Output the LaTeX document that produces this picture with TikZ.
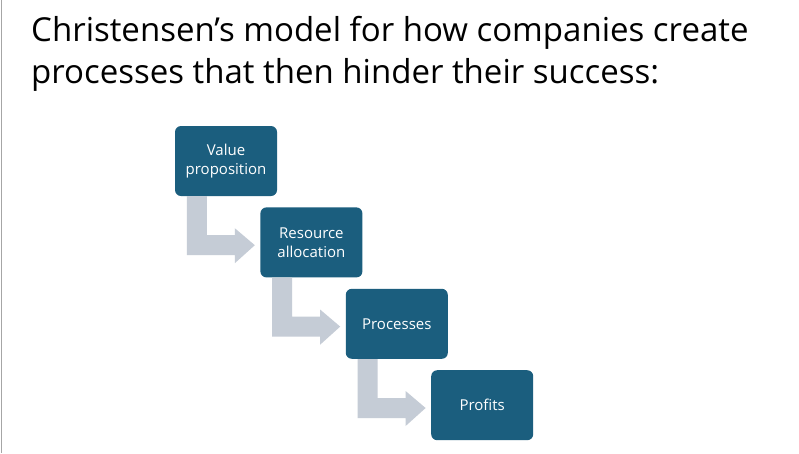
\documentclass[tikz,border=0pt]{standalone}
\usepackage{fontspec}
\setmainfont{Open Sans}
\usetikzlibrary{positioning,calc}
\definecolor{boxblue}{HTML}{1B5E7E}
\definecolor{arrowgray}{HTML}{C5CCD6}
\tikzset{
  stage/.style={rectangle, fill=boxblue, text=white, rounded corners=6pt, minimum width=102pt, minimum height=70pt, align=center, font=\fontsize{15}{19}\selectfont, inner sep=2pt},
  bent/.style={fill=arrowgray, draw=none}
}
\newcommand{\bentarrow}[1]{%
  \fill[bent] ($(#1.south west)+(12,0)$) -- ++(0,59) -- ++(48,0) -- ++(0,8)
    -- ++(20,-18) -- ++(-20,-17) -- ++(0,7) -- ++(-28,0) -- ++(0,-39) -- cycle;}

\begin{document}
\begin{tikzpicture}[x=1pt, y=-1pt]
   \useasboundingbox (0,0) rectangle (799,453);
   \fill[white] (0,0) rectangle (799,453);
   \draw[gray!70, line width=1pt] (1,0) -- (1,453);
   % title
   \node[anchor=north west, align=left, font=\fontsize{33}{42}\selectfont, inner sep=0pt] (title) at (31,16)
     {Christensen’s model for how companies create\\processes that then hinder their success:};
   % nodes
   \node[stage] (value)                        at (226,161) {Value\\proposition};
   \node[stage] (resource) [right=-17pt of value.south east, anchor=north west, yshift=-11pt] {Resource\\allocation};
   \node[stage] (processes) [right=-17pt of resource.south east, anchor=north west, yshift=-11pt] {Processes};
   \node[stage] (profits) [right=-17pt of processes.south east, anchor=north west, yshift=-11pt] {Profits};
   % arrows
   \bentarrow{value}
   \bentarrow{resource}
   \bentarrow{processes}
\end{tikzpicture}
\end{document}
